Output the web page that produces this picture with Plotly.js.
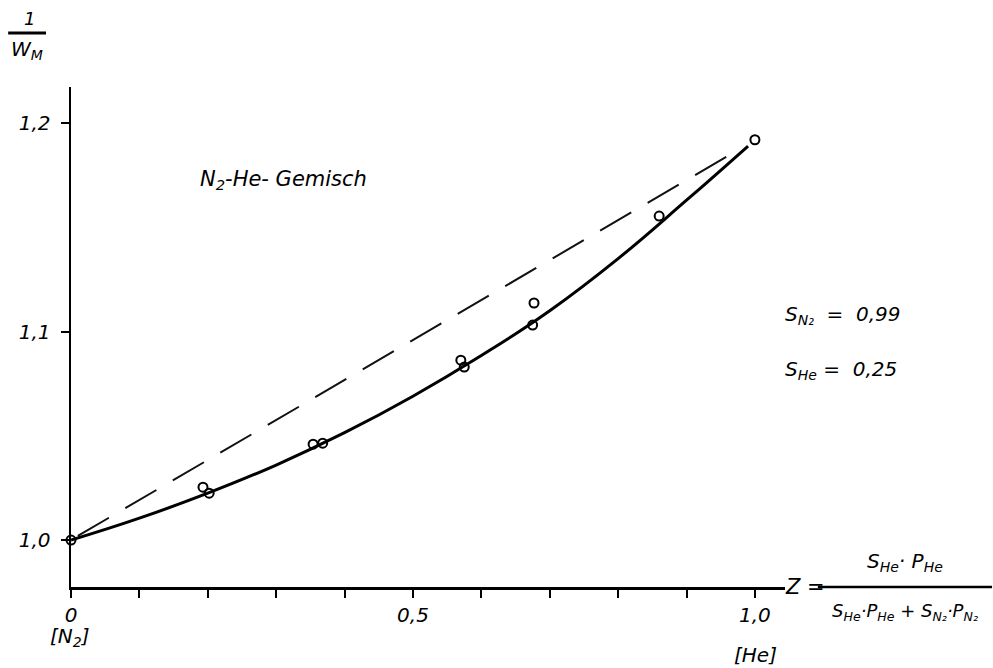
<!DOCTYPE html>
<html>
<head>
<meta charset="utf-8">
<script src="https://cdn.plot.ly/plotly-3.0.1.min.js"></script>
<style>html,body{margin:0;padding:0;background:#fff;}#chart{width:993px;height:668px;}</style>
</head>
<body>
<div id="chart"></div>
<script>
// Measured points (Z, 1/W_M)
const pointZ = [0.0, 0.193, 0.202, 0.354, 0.368, 0.570, 0.575, 0.675, 0.677, 0.860, 1.0];
const pointW = [1.000, 1.0254, 1.0225, 1.046, 1.0465, 1.0863, 1.083, 1.1031, 1.1137, 1.1554, 1.192];
// Solid fitted curve
const curveZ = [0.0, 0.1, 0.2, 0.3, 0.4, 0.5, 0.6, 0.7, 0.8, 0.9, 0.99];
const curveW = [1.000, 1.0105, 1.0225, 1.036, 1.0515, 1.069, 1.0885, 1.110, 1.135, 1.163, 1.189];
// Dashed straight line
const lineZ = [0.01, 0.975];
const lineW = [1.002, 1.187];
// Axis ticks
const xTickVals = [0, 0.1, 0.2, 0.3, 0.4, 0.5, 0.6, 0.7, 0.8, 0.9, 1.0];
const xTickText = ['0', '', '', '', '', '0,5', '', '', '', '', '1,0'];
const yTickVals = [1.0, 1.1, 1.2];
const yTickText = ['1,0', '1,1', '1,2'];

const FONT = 'DejaVu Sans, sans-serif';
const txt = (size) => ({family: FONT, size: size, color: '#000', style: 'italic'});

const traces = [
  {x: lineZ, y: lineW, mode: 'lines', line: {color: '#111', width: 2, dash: '36px,19px'}, hoverinfo: 'skip', cliponaxis: false},
  {x: curveZ, y: curveW, mode: 'lines', line: {color: '#000', width: 3, shape: 'spline', smoothing: 1.3}, hoverinfo: 'skip', cliponaxis: false},
  {x: pointZ, y: pointW, mode: 'markers', marker: {symbol: 'circle-open', size: 9, color: '#000', line: {width: 2, color: '#000'}}, cliponaxis: false}
];

const ann = (x, y, text, size, opts) => Object.assign({x: x, y: y, text: text, showarrow: false, font: txt(size), xanchor: 'center', yanchor: 'middle'}, opts || {});

const layout = {
  width: 993, height: 668,
  margin: {l: 71, r: 208, t: 87, b: 81},
  paper_bgcolor: '#fff', plot_bgcolor: '#fff',
  showlegend: false,
  xaxis: {
    range: [0, 1.044], showgrid: false, zeroline: false,
    showline: true, linecolor: '#000', linewidth: 2.5,
    ticks: 'outside', ticklen: 8, tickwidth: 2, tickcolor: '#000',
    tickvals: xTickVals, ticktext: xTickText, tickfont: txt(20)
  },
  yaxis: {
    range: [0.9775, 1.2173], showgrid: false, zeroline: false,
    showline: true, linecolor: '#000', linewidth: 2.5,
    ticks: 'outside', ticklen: 8, tickwidth: 2, tickcolor: '#000',
    tickvals: yTickVals, ticktext: yTickText, tickfont: txt(20), ticklabelstandoff: 6
  },
  shapes: [
    {type: 'line', xref: 'paper', yref: 'paper', x0: -0.088, x1: -0.035, y0: 1.108, y1: 1.108, line: {color: '#000', width: 3}},
    {type: 'line', xref: 'paper', yref: 'paper', x0: 1.046, x1: 1.29, y0: 0, y1: 0, line: {color: '#000', width: 2.5}}
  ],
  annotations: [
    ann(-0.058, 1.138, '1', 18, {xref: 'paper', yref: 'paper'}),
    ann(-0.062, 1.075, 'W<sub>M</sub>', 20, {xref: 'paper', yref: 'paper'}),
    ann(0.31, 1.1727, 'N<sub>2</sub>-He- Gemisch', 21, {xref: 'x', yref: 'y'}),
    ann(1.041, 1.108, 'S<sub>N₂</sub>  =  0,99', 20, {xref: 'x', yref: 'y', xanchor: 'left'}),
    ann(1.041, 1.0815, 'S<sub>He</sub> =  0,25', 20, {xref: 'x', yref: 'y', xanchor: 'left'}),
    ann(-0.001, -0.10, '[N<sub>2</sub>]', 20, {xref: 'paper', yref: 'paper'}),
    ann(0.958, -0.136, '[He]', 20, {xref: 'paper', yref: 'paper'}),
    ann(1.028, 0, 'Z =', 21, {xref: 'paper', yref: 'paper'}),
    ann(1.168, 0.05, 'S<sub>He</sub>· P<sub>He</sub>', 20, {xref: 'paper', yref: 'paper'}),
    ann(1.168, -0.05, 'S<sub>He</sub>·P<sub>He</sub> + S<sub>N₂</sub>·P<sub>N₂</sub>', 18, {xref: 'paper', yref: 'paper'})
  ]
};

Plotly.newPlot('chart', traces, layout, {displayModeBar: false, staticPlot: true});
</script>
</body>
</html>
